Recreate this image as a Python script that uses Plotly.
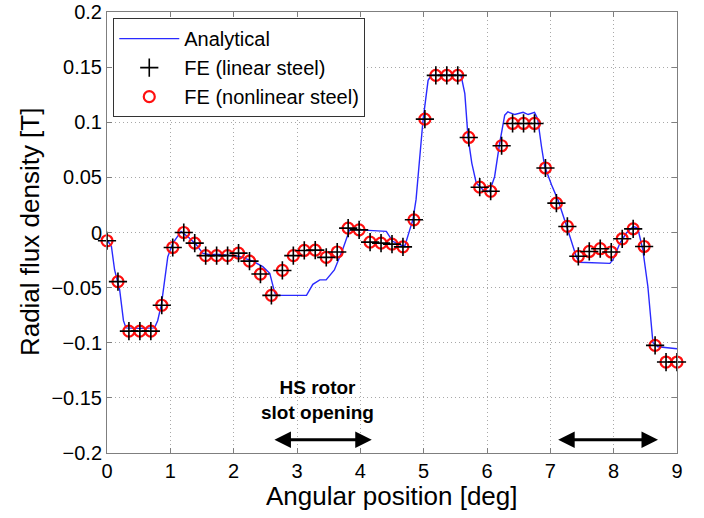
import plotly.graph_objects as go

# FE sample positions [deg] and values [T]
fe_x = [0.000, 0.173, 0.346, 0.519, 0.692, 0.865, 1.038, 1.212, 1.385, 1.558,
        1.731, 1.904, 2.077, 2.250, 2.423, 2.596, 2.769, 2.942, 3.115, 3.288,
        3.462, 3.635, 3.808, 3.981, 4.154, 4.327, 4.500, 4.673, 4.846, 5.019,
        5.192, 5.365, 5.538, 5.712, 5.885, 6.058, 6.231, 6.404, 6.577, 6.750,
        6.923, 7.096, 7.269, 7.442, 7.615, 7.788, 7.962, 8.135, 8.308, 8.481,
        8.654, 8.827, 9.000]
fe_linear = [-0.0075, -0.0446, -0.0895, -0.0895, -0.0895, -0.0660, -0.0136, 0.0000, -0.0096, -0.0210,
             -0.0210, -0.0210, -0.0187, -0.0260, -0.0377, -0.0570, -0.0344, -0.0210, -0.0163, -0.0160,
             -0.0226, -0.0177, 0.0040, 0.0024, -0.0087, -0.0096, -0.0105, -0.0130, 0.0115, 0.1028,
             0.1425, 0.1425, 0.1425, 0.0862, 0.0411, 0.0374, 0.0787, 0.0989, 0.0989, 0.0989,
             0.0585, 0.0266, 0.0055, -0.0216, -0.0172, -0.0147, -0.0177, -0.0057, 0.0033, -0.0127,
             -0.1024, -0.1175, -0.1175]
fe_nonlinear = list(fe_linear)

# Analytical curve
an_x = [0.00, 0.07, 0.12, 0.20, 0.26, 0.30, 0.50, 0.75, 0.80, 0.86, 0.96, 1.04, 1.17, 1.30,
        1.41, 1.51, 1.60, 1.78, 2.09, 2.30, 2.46, 2.57, 2.65, 2.70, 3.15, 3.25, 3.36, 3.46,
        3.59, 3.72, 3.83, 3.99, 4.41, 4.51, 4.62, 4.70, 4.78, 4.83, 4.88, 4.99, 5.07, 5.12,
        5.59, 5.65, 5.70, 5.76, 5.83, 5.94, 6.04, 6.12, 6.20, 6.28, 6.33, 6.44, 6.57, 6.65,
        6.75, 6.80, 6.86, 6.91, 7.02, 7.12, 7.25, 7.41, 7.46, 7.94, 7.99, 8.10, 8.20, 8.31,
        8.38, 8.46, 8.54, 8.62, 8.70, 8.83, 9.00]
an_y = [-0.0066, -0.0127, -0.0340, -0.0520, -0.0800, -0.0865, -0.0870, -0.0865, -0.0800, -0.0650,
        -0.0220, -0.0096, 0.0010, -0.0050, -0.0110, -0.0187, -0.0200, -0.0200, -0.0217, -0.0260,
        -0.0310, -0.0370, -0.0550, -0.0570, -0.0570, -0.0470, -0.0430, -0.0430, -0.0340, -0.0156,
        0.0024, 0.0024, 0.0010, -0.0080, -0.0110, -0.0127, 0.0024, 0.0115, 0.0300, 0.1020,
        0.1380, 0.1426, 0.1426, 0.1260, 0.0868, 0.0630, 0.0450, 0.0386, 0.0370, 0.0506,
        0.0810, 0.1064, 0.1094, 0.1070, 0.1090, 0.1070, 0.1090, 0.1030, 0.0780, 0.0600,
        0.0430, 0.0296, 0.0070, -0.0220, -0.0270, -0.0280, -0.0247, -0.0096, -0.0005, 0.0054,
        0.0040, -0.0156, -0.0490, -0.1000, -0.1036, -0.1045, -0.1054]

x_ticks = [0, 1, 2, 3, 4, 5, 6, 7, 8, 9]
y_ticks = [0.2, 0.15, 0.1, 0.05, 0, -0.05, -0.1, -0.15, -0.2]
y_ticktext = ["0.2", "0.15", "0.1", "0.05", "0", "\u22120.05", "\u22120.1", "\u22120.15", "\u22120.2"]

slot_arrows = [(2.62, 4.18), (7.10, 8.70)]
arrow_y = -0.188

FONT = "Liberation Sans, Arial, Helvetica, sans-serif"

fig = go.Figure()
fig.add_trace(go.Scatter(x=an_x, y=an_y, mode="lines", name="Analytical",
                         line=dict(color="#2a2aff", width=1.4), legendrank=1))
fig.add_trace(go.Scatter(x=fe_x, y=fe_nonlinear, mode="markers", name="FE (nonlinear steel)",
                         marker=dict(symbol="circle-open", size=11, color="#ff1010",
                                     line=dict(width=2.2, color="#ff1010")),
                         cliponaxis=False, legendrank=3))
fig.add_trace(go.Scatter(x=fe_x, y=fe_linear, mode="markers", name="FE (linear steel)",
                         marker=dict(symbol="cross-thin-open", size=13, color="black",
                                     line=dict(width=1.6, color="black")),
                         cliponaxis=False, legendrank=2))

for (a, b) in slot_arrows:
    fig.add_annotation(x=b, y=arrow_y, ax=a, ay=arrow_y, xref="x", yref="y",
                       axref="x", ayref="y", showarrow=True, arrowside="end+start",
                       arrowhead=2, arrowsize=1.1, arrowwidth=3, arrowcolor="black", text="")

fig.add_annotation(x=3.33, y=-0.152, xref="x", yref="y", showarrow=False,
                   text="<b>HS rotor</b><br><b>slot opening</b>",
                   font=dict(family=FONT, size=19, color="black"), align="center")

# axis titles
fig.add_annotation(x=0.5, y=-0.0975, xref="paper", yref="paper", showarrow=False,
                   text="Angular position [deg]", xanchor="center", yanchor="middle",
                   font=dict(family=FONT, size=26, color="black"))
fig.add_annotation(x=-0.135, y=0.501, xref="paper", yref="paper", showarrow=False,
                   text="Radial flux density [T]", textangle=-90, xanchor="center", yanchor="middle",
                   font=dict(family=FONT, size=26, color="black"))

axis_common = dict(showline=True, linecolor="#7f7f7f", linewidth=1, mirror="ticks",
                   ticks="inside", ticklen=5, tickcolor="#7f7f7f", showgrid=True,
                   gridcolor="#a8a8a8", griddash="1px,3px", gridwidth=1, zeroline=False,
                   automargin=False,
                   tickfont=dict(family=FONT, size=20, color="black"))

fig.update_xaxes(range=[0, 9], tickvals=x_ticks, **axis_common)
fig.update_yaxes(range=[-0.2, 0.2], tickvals=y_ticks, ticktext=y_ticktext, **axis_common)

fig.update_layout(width=704, height=518, margin=dict(l=107, r=27, t=12, b=65),
                  paper_bgcolor="white", plot_bgcolor="white",
                  font=dict(family=FONT, color="black"),
                  legend=dict(x=0.011, y=0.986, xanchor="left", yanchor="top",
                              bgcolor="white", bordercolor="#333333", borderwidth=1,
                              font=dict(family=FONT, size=20, color="black"),
                              itemwidth=60, tracegroupgap=0))

fig.write_html("out.html")
